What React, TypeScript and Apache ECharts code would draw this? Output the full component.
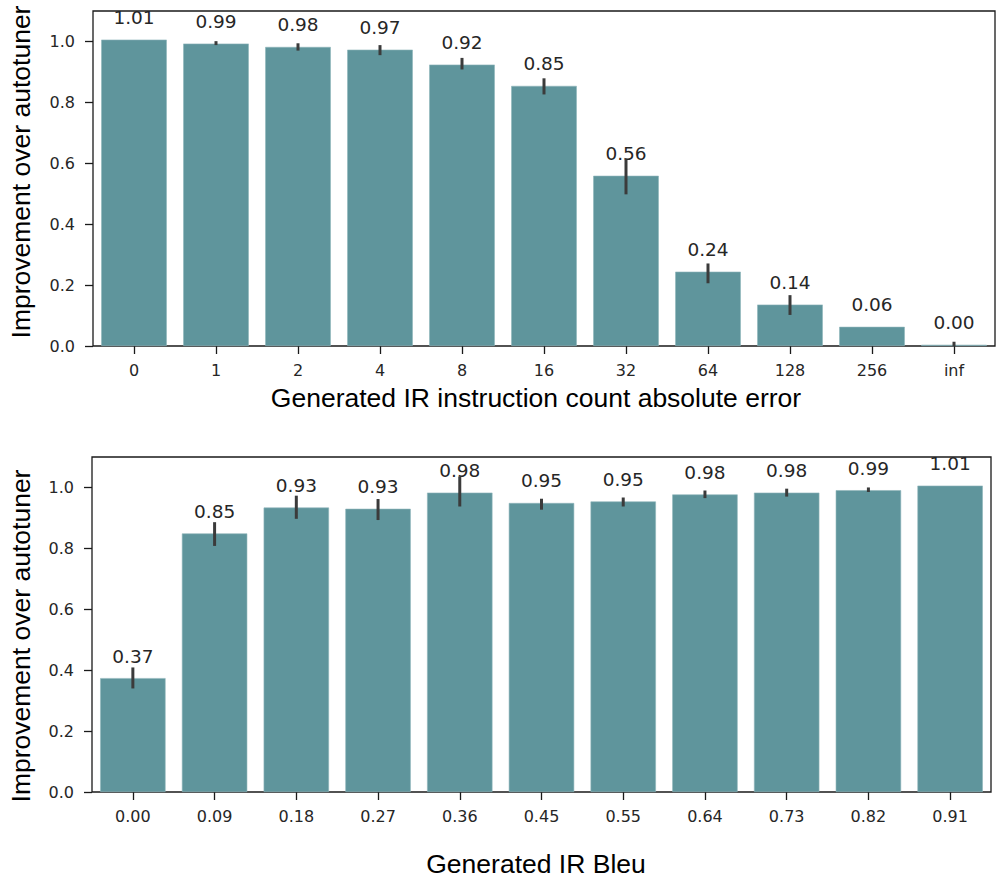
import React, { useEffect, useRef } from "react";
import * as echarts from "echarts";

const topCategories = ["0", "1", "2", "4", "8", "16", "32", "64", "128", "256", "inf"];
const topValues = [1.006, 0.993, 0.982, 0.973, 0.924, 0.854, 0.559, 0.244, 0.136, 0.063, 0.004];
const topErrLow = [1.006, 0.988, 0.970, 0.955, 0.908, 0.826, 0.498, 0.206, 0.102, 0.063, 0.0];
const topErrHigh = [1.006, 1.001, 0.994, 0.988, 0.946, 0.879, 0.613, 0.271, 0.167, 0.063, 0.014];

const bottomCategories = ["0.00", "0.09", "0.18", "0.27", "0.36", "0.45", "0.55", "0.64", "0.73", "0.82", "0.91"];
const bottomValues = [0.374, 0.849, 0.934, 0.930, 0.983, 0.949, 0.954, 0.977, 0.983, 0.991, 1.006];
const bottomErrLow = [0.340, 0.808, 0.897, 0.893, 0.9375, 0.927, 0.9375, 0.965, 0.970, 0.985, 1.006];
const bottomErrHigh = [0.409, 0.886, 0.973, 0.962, 1.036, 0.963, 0.967, 0.990, 0.996, 1.0, 1.006];

const yTicks = [0, 0.2, 0.4, 0.6, 0.8, 1.0];

const topXTitle = "Generated IR instruction count absolute error";
const bottomXTitle = "Generated IR Bleu";
const yTitle = "Improvement over autotuner";

const BAR_COLOR = "#5f959c";
const TEXT_COLOR = "#262626";
const ERR_COLOR = "#3b3b3b";
const TICK_FONT = "DejaVu Sans";
const TITLE_FONT = "Liberation Sans";

function makeXAxis(gridIndex: number, cats: string[]) {
  return {
    type: "category",
    gridIndex,
    data: cats,
    axisLine: { show: false },
    axisTick: { show: true, alignWithLabel: true, length: 8, lineStyle: { color: "#1a1a1a", width: 1.3 } },
    axisLabel: { color: TEXT_COLOR, fontSize: 16, fontFamily: TICK_FONT, margin: 16 },
    splitLine: { show: false },
  };
}

function makeYAxis(gridIndex: number) {
  return {
    type: "value",
    gridIndex,
    min: 0,
    max: 1.1,
    interval: 0.2,
    axisLine: { show: false },
    axisTick: {
      show: true,
      length: 8,
      customValues: yTicks,
      lineStyle: { color: "#1a1a1a", width: 1.3 },
    },
    axisLabel: {
      color: TEXT_COLOR,
      fontSize: 16,
      fontFamily: TICK_FONT,
      margin: 18,
      customValues: yTicks,
      formatter: (v: number) => v.toFixed(1),
    },
    splitLine: { show: false },
  };
}

function makeErrSeries(idx: number, values: number[], lo: number[], hi: number[]) {
  const data = values.map((v, i) => [i, v, lo[i], hi[i]]);
  return {
    type: "custom",
    xAxisIndex: idx,
    yAxisIndex: idx,
    z: 5,
    clip: false,
    encode: { x: 0, y: 1 },
    data,
    renderItem: (params: any, api: any) => {
      const i = api.value(0);
      const v = api.value(1);
      const l = api.value(2);
      const h = api.value(3);
      const top = api.coord([i, v]);
      const children: any[] = [];
      if (h - l > 1e-6) {
        const a = api.coord([i, l]);
        const b = api.coord([i, h]);
        children.push({
          type: "line",
          shape: { x1: a[0], y1: a[1], x2: b[0], y2: b[1] },
          style: { stroke: ERR_COLOR, lineWidth: 3 },
        });
      }
      children.push({
        type: "text",
        x: top[0],
        y: top[1] - 22,
        z2: 10,
        style: {
          text: Number(v).toFixed(2),
          textAlign: "center",
          textVerticalAlign: "middle",
          fontSize: 18.5,
          fontFamily: TICK_FONT,
          fill: TEXT_COLOR,
        },
      });
      return { type: "group", children };
    },
  };
}

export default function App() {
  const ref = useRef<HTMLDivElement>(null);
  useEffect(() => {
    if (!ref.current) return;
    const chart = echarts.init(ref.current, undefined, { renderer: "svg" });
    const option: any = {
      animation: false,
      backgroundColor: "#ffffff",
      grid: [
        { left: 93, top: 11, width: 902, height: 335, show: true, borderColor: "#1a1a1a", borderWidth: 1.3, backgroundColor: "transparent" },
        { left: 92, top: 457, width: 899, height: 335, show: true, borderColor: "#1a1a1a", borderWidth: 1.3, backgroundColor: "transparent" },
      ],
      xAxis: [makeXAxis(0, topCategories), makeXAxis(1, bottomCategories)],
      yAxis: [makeYAxis(0), makeYAxis(1)],
      series: [
        {
          type: "bar",
          xAxisIndex: 0,
          yAxisIndex: 0,
          data: topValues,
          barCategoryGap: "20%",
          itemStyle: { color: BAR_COLOR, borderColor: "#8fb5ba", borderWidth: 0.6 },
          z: 2,
        },
        {
          type: "bar",
          xAxisIndex: 1,
          yAxisIndex: 1,
          data: bottomValues,
          barCategoryGap: "20%",
          itemStyle: { color: BAR_COLOR, borderColor: "#8fb5ba", borderWidth: 0.6 },
          z: 2,
        },
        makeErrSeries(0, topValues, topErrLow, topErrHigh),
        makeErrSeries(1, bottomValues, bottomErrLow, bottomErrHigh),
      ],
      graphic: [
        {
          type: "text",
          x: 21,
          y: 172,
          rotation: Math.PI / 2,
          style: { text: yTitle, textAlign: "center", textVerticalAlign: "middle", fontSize: 26.5, fontFamily: TITLE_FONT, fill: "#000" },
        },
        {
          type: "text",
          x: 21,
          y: 636,
          rotation: Math.PI / 2,
          style: { text: yTitle, textAlign: "center", textVerticalAlign: "middle", fontSize: 26.5, fontFamily: TITLE_FONT, fill: "#000" },
        },
        {
          type: "text",
          x: 536,
          y: 398,
          style: { text: topXTitle, textAlign: "center", textVerticalAlign: "middle", fontSize: 26.5, fontFamily: TITLE_FONT, fill: "#000" },
        },
        {
          type: "text",
          x: 536,
          y: 864,
          style: { text: bottomXTitle, textAlign: "center", textVerticalAlign: "middle", fontSize: 26.5, fontFamily: TITLE_FONT, fill: "#000" },
        },
      ],
    };
    chart.setOption(option);
    return () => chart.dispose();
  }, []);
  return <div ref={ref} style={{ position: "fixed", left: 0, top: 0, width: 1004, height: 880 }} />;
}
